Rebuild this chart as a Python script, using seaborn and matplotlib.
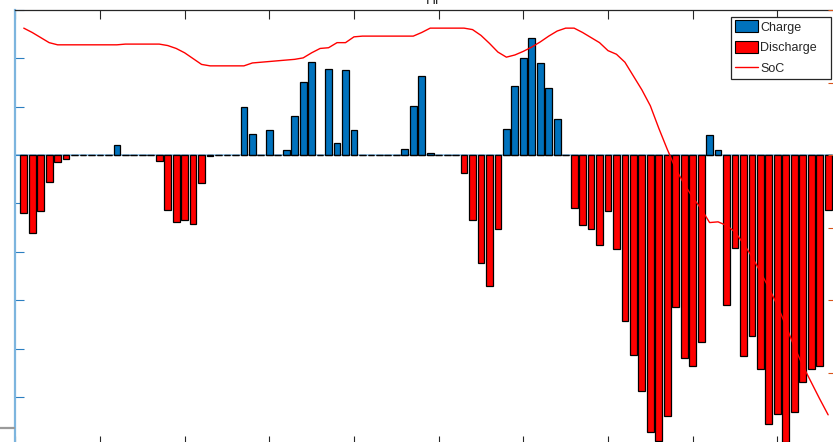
import numpy as np
import pandas as pd
import matplotlib
matplotlib.use("Agg")
import matplotlib.pyplot as plt
from matplotlib.patches import Patch
from matplotlib.lines import Line2D
import seaborn as sns

sns.set_theme(style="white")
plt.rcParams["font.family"] = ["Liberation Sans", "DejaVu Sans"]

# 15-minute intervals over one day
interval = list(range(1, 97))

# Battery charging power (positive) per interval
charge = [0, 0, 0, 0, 0, 0, 0, 0, 0, 0, 0, 20, 0, 0, 0, 0, 0, 0, 0, 0,
          0, 0, 0, 0, 0, 0, 100, 44, 0, 52, 0, 11, 81, 151, 193, 0, 179, 25, 176, 52,
          0, 0, 0, 0, 0, 13, 102, 163, 5, 0, 0, 0, 0, 0, 0, 0, 0, 54, 143, 201,
          242, 191, 139, 75, 0, 0, 0, 0, 0, 0, 0, 0, 0, 0, 0, 0, 0, 0, 0, 0,
          0, 41, 10, 0, 0, 0, 0, 0, 0, 0, 0, 0, 0, 0, 0, 0]

# Battery discharging power (negative) per interval
discharge = [-120, -162, -115, -55, -15, -8, 0, 0, 0, 0, 0, 0, 0, 0, 0, 0, -12, -114, -139, -135,
             -143, -57, -2, 0, 0, 0, 0, 0, 0, 0, 0, 0, 0, 0, 0, 0, 0, 0, 0, 0,
             0, 0, 0, 0, 0, 0, 0, 0, 0, 0, 0, 0, -37, -134, -224, -271, -153, 0, 0, 0,
             0, 0, 0, 0, 0, -109, -145, -152, -186, -116, -195, -342, -414, -487, -572, -592, -539, -315, -419, -436,
             -387, 0, 0, -309, -193, -416, -373, -443, -556, -536, -594, -532, -470, -442, -437, -114]

# State of charge (%) at each interval
soc = [77.5, 76.9, 76.2, 75.5, 75.2, 75.2, 75.2, 75.2, 75.2, 75.2, 75.2, 75.2, 75.3, 75.3, 75.3, 75.3, 75.3, 75.1, 74.7, 74.1,
       73.3, 72.5, 72.3, 72.3, 72.3, 72.3, 72.3, 72.7, 72.8, 72.9, 73.0, 73.1, 73.2, 73.4, 74.1, 74.7, 74.8, 75.5, 75.5, 76.3,
       76.4, 76.4, 76.4, 76.4, 76.4, 76.4, 76.4, 76.9, 77.5, 77.5, 77.5, 77.5, 77.5, 77.3, 76.5, 75.4, 74.2, 73.5, 73.8, 74.3,
       74.9, 75.6, 76.4, 77.1, 77.5, 77.5, 76.9, 76.2, 75.5, 74.4, 73.9, 72.8, 70.9, 69.0, 66.8, 63.7, 60.8, 58.1, 56.0, 54.2,
       52.6, 50.7, 50.8, 50.3, 49.4, 47.8, 46.0, 43.9, 41.7, 39.3, 36.5, 33.6, 31.0, 28.7, 26.4, 24.2]

df = pd.DataFrame({"interval": interval, "charge": charge,
                   "discharge": discharge, "soc": soc})

BLUE = "#0072BD"
RED = "#FF0000"
ORANGE = "#D95319"
AXBLUE = "#7DB5DE"
DARK = "#262626"

W, H = 833, 442
fig = plt.figure(figsize=(W / 100, H / 100), dpi=100)

# axes deliberately extend past the figure edges
x_left_px, x_right_px = 15.3, 836.6
y_top_px, y_bot_px = 10.0, 445.3
ax = fig.add_axes([x_left_px / W, 1 - y_bot_px / H,
                   (x_right_px - x_left_px) / W, (y_bot_px - y_top_px) / H])
ax.set_facecolor("white")

ax.axhline(0, color="#8CC0E6", lw=1.2, zorder=0.5)

sns.barplot(data=df, x="interval", y="charge", native_scale=True, width=0.8,
            color=BLUE, saturation=1, edgecolor="black", linewidth=0.9,
            errorbar=None, ax=ax, zorder=2)
sns.barplot(data=df, x="interval", y="discharge", native_scale=True, width=0.8,
            color=RED, saturation=1, edgecolor="black", linewidth=0.9,
            errorbar=None, ax=ax, zorder=2)

ax.set_xlim(0, 97)
ax.set_ylim(-600, 300)
ax.set_xticks(np.arange(0, 91, 10))
ax.set_yticks(np.arange(-600, 301, 100))
ax.set_xticklabels([])
ax.set_yticklabels([])
ax.set_xlabel("")
ax.set_ylabel("")
ax.tick_params(axis="x", which="both", direction="in", length=6.5, width=0.8,
               color=DARK, top=True, bottom=True)
ax.tick_params(axis="y", which="both", direction="in", length=6.5, width=0.8,
               color="#2B7FC1", left=True, right=False)
for side in ("top", "bottom"):
    ax.spines[side].set_color(DARK)
    ax.spines[side].set_linewidth(0.9)
ax.spines["left"].set_color(AXBLUE)
ax.spines["left"].set_linewidth(1.6)
ax.spines["right"].set_visible(False)
ax.grid(False)

ax2 = ax.twinx()
sns.lineplot(data=df, x="interval", y="soc", color=RED, lw=1.0, ax=ax2)
ax2.set_ylim(20, 80)
ax2.set_yticks(np.arange(20, 81, 10))
ax2.set_yticklabels([])
ax2.set_ylabel("")
ax2.set_xlabel("")
ax2.tick_params(axis="y", direction="in", length=6.5, width=0.8, color=ORANGE,
                right=True, left=False)
for side in ("top", "bottom", "left"):
    ax2.spines[side].set_visible(False)
ax2.spines["right"].set_color(ORANGE)
ax2.grid(False)

handles = [Patch(facecolor=BLUE, edgecolor="black", linewidth=0.8),
           Patch(facecolor=RED, edgecolor="black", linewidth=0.8),
           Line2D([], [], color=RED, lw=1.0)]
leg = ax2.legend(handles, ["Charge", "Discharge", "SoC"],
                 loc="upper left",
                 bbox_to_anchor=(731.3 / W, 1 - 79.0 / H, (831.0 - 731.3) / W, 62.3 / H),
                 bbox_transform=fig.transFigure, mode="expand",
                 borderaxespad=0, frameon=True, fancybox=False, framealpha=1,
                 fontsize=9, handlelength=1.85, handleheight=1.1,
                 handletextpad=0.15, labelspacing=0.6, borderpad=0.3)
leg.get_frame().set_edgecolor(DARK)
leg.get_frame().set_linewidth(0.9)
for t in leg.get_texts():
    t.set_color(DARK)

# title text, mostly above the top edge
fig.text(433 / W, 1 - 3.5 / H, "Hr", ha="center", va="baseline",
         fontsize=10, color=DARK)

# small grey mark at the lower left edge
fig.add_artist(Line2D([0, 13.5 / W], [1 - 427.7 / H, 1 - 427.7 / H],
                      transform=fig.transFigure, color="#9A9A9A", lw=1.6))

fig.savefig("out.png", dpi=100)
